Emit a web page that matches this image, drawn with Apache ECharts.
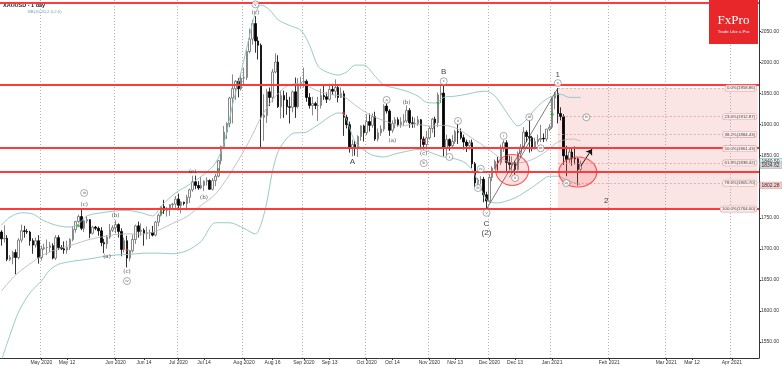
<!DOCTYPE html>
<html><head><meta charset="utf-8">
<script src="https://cdn.jsdelivr.net/npm/echarts@6/dist/echarts.min.js"></script>
<style>html,body{margin:0;padding:0;background:#fff}#c{width:782px;height:366px}</style>
</head><body><div id="c"></div>
<script>
// ---------- DATA ----------
const symbolTitle = 'XAUUSD - 1 day';
const indicatorTitle = 'BB(20,20,2.0,2.0)';
const holidays = ['2020-12-25', '2021-01-01'];
const totalBars = 266;

const open = [1727,1716,1717,1683,1686,1694,1686,1714,1729,1728,
1727,1713,1706,1713,1686,1700,1702,1702,1705,1685,
1718,1702,1700,1698,1702,1715,1731,1744,1752,1733,
1745,1747,1725,1735,1733,1729,1710,1708,1719,1730,
1734,1739,1728,1699,1713,1685,1697,1715,1737,1728,
1730,1725,1726,1726,1722,1743,1754,1768,1762,1763,
1771,1772,1780,1770,1775,1773,1783,1795,1808,1802,
1798,1802,1809,1810,1796,1810,1817,1842,1865,1888,
1902,1943,1958,1970,1958,1975,1976,2018,2038,2063,
2035,2028,1912,1915,1953,1944,1985,2001,1929,1947,
1940,1929,1928,1953,1929,1964,1968,1970,1944,1931,
1934,1931,1931,1947,1945,1941,1957,1954,1960,1944,
1950,1912,1900,1863,1868,1862,1881,1898,1887,1905,
1899,1913,1877,1887,1893,1930,1922,1891,1902,1908,
1900,1904,1906,1923,1903,1902,1902,1908,1877,1868,
1879,1894,1909,1903,1948,1951,1862,1876,1866,1873,
1889,1888,1879,1872,1866,1871,1837,1806,1811,1812,
1787,1777,1815,1830,1841,1839,1862,1871,1839,1836,
1839,1828,1854,1864,1888,1881,1879,1863,1873,1876,
1878,1877,1893,1896,1943,1950,1918,1913,1850,1844,
1856,1846,1845,1828];
const high = [1730,1738,1722,1690,1697,1699,1717,1739,1737,1732,
1729,1717,1718,1722,1705,1708,1715,1711,1709,1722,
1722,1706,1712,1713,1717,1736,1745,1755,1765,1747,
1753,1748,1737,1737,1736,1735,1716,1722,1740,1738,
1746,1741,1733,1718,1721,1698,1723,1739,1744,1741,
1733,1736,1731,1737,1745,1757,1768,1779,1767,1772,
1774,1785,1789,1777,1776,1787,1797,1818,1818,1809,
1816,1810,1815,1812,1814,1821,1843,1866,1898,1904,
1945,1981,1972,1975,1983,1992,2021,2055,2069,2075,
2042,2031,1949,1958,1960,1990,2015,2012,1955,1955,
1952,1945,1955,1976,1975,1977,1992,1973,1951,1945,
1937,1945,1958,1965,1952,1966,1966,1973,1963,1960,
1955,1916,1905,1876,1874,1883,1899,1900,1917,1918,
1918,1921,1894,1899,1933,1934,1925,1907,1912,1912,
1912,1917,1931,1927,1913,1911,1914,1909,1881,1890,
1897,1911,1913,1952,1965,1966,1884,1878,1883,1892,
1902,1894,1884,1876,1875,1876,1840,1814,1817,1816,
1792,1820,1833,1844,1848,1868,1875,1875,1850,1849,
1842,1857,1869,1896,1891,1907,1882,1879,1884,1900,
1886,1893,1901,1944,1953,1959,1928,1917,1866,1862,
1863,1865,1847,1842];
const low = [1705,1710,1680,1680,1675,1659,1683,1710,1718,1724,
1705,1692,1702,1676,1681,1698,1690,1695,1683,1682,
1698,1698,1692,1692,1698,1712,1726,1742,1730,1727,
1741,1717,1723,1730,1721,1704,1693,1700,1716,1727,
1725,1718,1688,1694,1670,1680,1694,1708,1718,1721,
1705,1715,1716,1720,1720,1736,1752,1756,1752,1753,
1763,1766,1762,1757,1770,1762,1774,1792,1796,1795,
1796,1793,1802,1795,1794,1801,1815,1836,1862,1877,
1896,1902,1940,1944,1955,1965,1972,2015,2029,2016,
2005,1863,1874,1903,1930,1936,1983,1927,1910,1911,
1916,1902,1920,1911,1926,1958,1960,1937,1926,1915,
1925,1906,1926,1940,1935,1939,1948,1943,1936,1943,
1882,1894,1855,1849,1850,1848,1874,1873,1883,1889,
1895,1874,1873,1882,1889,1918,1882,1887,1894,1897,
1895,1898,1903,1895,1895,1895,1898,1860,1860,1860,
1876,1887,1880,1896,1935,1849,1850,1858,1861,1869,
1869,1876,1860,1856,1860,1830,1800,1800,1804,1775,
1764,1775,1809,1828,1826,1835,1856,1823,1828,1823,
1819,1826,1848,1860,1872,1855,1857,1860,1868,1872,
1872,1873,1890,1893,1925,1902,1907,1835,1817,1838,
1834,1836,1802,1823];
const close = [1716,1717,1683,1686,1694,1686,1714,1729,1728,1727,
1713,1706,1713,1686,1700,1702,1702,1705,1685,1718,
1702,1700,1698,1702,1715,1731,1744,1752,1733,1745,
1747,1725,1735,1733,1729,1710,1708,1719,1730,1734,
1739,1728,1699,1713,1685,1697,1715,1737,1728,1730,
1725,1726,1726,1722,1743,1754,1768,1762,1763,1771,
1772,1780,1770,1775,1773,1783,1795,1808,1802,1798,
1802,1809,1810,1796,1810,1817,1842,1865,1888,1902,
1943,1958,1970,1958,1975,1976,2018,2038,2063,2035,
2028,1912,1915,1953,1944,1985,2001,1929,1947,1940,
1929,1928,1953,1929,1964,1968,1970,1944,1931,1934,
1931,1931,1947,1945,1941,1957,1954,1960,1944,1950,
1912,1900,1863,1868,1862,1881,1898,1887,1905,1899,
1913,1877,1887,1893,1930,1922,1891,1902,1908,1900,
1904,1906,1923,1903,1902,1902,1908,1877,1868,1879,
1894,1909,1903,1948,1951,1862,1876,1866,1873,1889,
1888,1879,1872,1866,1871,1837,1806,1811,1812,1787,
1777,1815,1830,1841,1839,1862,1871,1839,1836,1839,
1828,1854,1864,1888,1881,1879,1863,1873,1876,1878,
1877,1893,1896,1943,1950,1918,1913,1850,1844,1856,
1846,1845,1828,1837];

const bbUpper = [['2020-04-15',1738],['2020-04-19',1751],['2020-04-23',1758],['2020-04-28',1756],['2020-05-03',1745],['2020-05-08',1737],['2020-05-13',1735],['2020-05-17',1740],['2020-05-20',1753],['2020-05-26',1758],['2020-06-01',1761],['2020-06-05',1762],['2020-06-12',1758],['2020-06-18',1753],['2020-06-23',1769],['2020-06-30',1790],['2020-07-07',1804],['2020-07-14',1820],['2020-07-20',1838],['2020-07-23',1870],['2020-07-28',1932],['2020-07-31',1985],['2020-08-05',2044],['2020-08-07',2080],['2020-08-11',2093],['2020-08-14',2085],['2020-08-19',2069],['2020-08-25',2060],['2020-08-31',2052],['2020-09-03',2028],['2020-09-08',1994],['2020-09-11',1985],['2020-09-17',1980],['2020-09-22',1985],['2020-09-25',1996],['2020-09-30',1996],['2020-10-06',1978],['2020-10-09',1964],['2020-10-15',1959],['2020-10-21',1954],['2020-10-27',1946],['2020-10-30',1936],['2020-11-04',1935],['2020-11-09',1944],['2020-11-13',1946],['2020-11-19',1949],['2020-11-25',1953],['2020-11-30',1954],['2020-12-03',1946],['2020-12-08',1927],['2020-12-11',1907],['2020-12-15',1898],['2020-12-18',1908],['2020-12-23',1925],['2020-12-29',1938],['2021-01-04',1946],['2021-01-07',1949],['2021-01-12',1944],['2021-01-18',1944]];
const bbMiddle = [['2020-04-15',1632],['2020-04-21',1658],['2020-04-28',1679],['2020-05-03',1691],['2020-05-08',1700],['2020-05-15',1708],['2020-05-20',1714],['2020-05-26',1719],['2020-06-01',1723],['2020-06-05',1724],['2020-06-15',1724],['2020-06-22',1730],['2020-06-29',1741],['2020-07-06',1752],['2020-07-13',1770],['2020-07-20',1788],['2020-07-27',1820],['2020-08-03',1858],['2020-08-06',1884],['2020-08-11',1912],['2020-08-17',1940],['2020-08-24',1962],['2020-08-31',1967],['2020-09-07',1956],['2020-09-14',1949],['2020-09-21',1945],['2020-09-28',1928],['2020-10-05',1914],['2020-10-12',1905],['2020-10-19',1898],['2020-10-26',1901],['2020-11-02',1898],['2020-11-09',1899],['2020-11-16',1893],['2020-11-23',1878],['2020-11-30',1863],['2020-12-07',1846],['2020-12-14',1838],['2020-12-21',1842],['2020-12-29',1854],['2021-01-06',1872],['2021-01-13',1877],['2021-01-18',1874]];
const bbLower = [['2020-04-15',1520],['2020-04-19',1561],['2020-04-22',1598],['2020-04-27',1629],['2020-05-01',1648],['2020-05-05',1666],['2020-05-08',1675],['2020-05-14',1680],['2020-05-20',1683],['2020-05-26',1687],['2020-06-01',1690],['2020-06-08',1691],['2020-06-15',1693],['2020-06-22',1693],['2020-06-29',1692],['2020-07-06',1697],['2020-07-13',1712],['2020-07-20',1742],['2020-07-27',1742],['2020-08-03',1733],['2020-08-07',1724],['2020-08-11',1740],['2020-08-13',1775],['2020-08-17',1825],['2020-08-19',1857],['2020-08-24',1878],['2020-08-27',1887],['2020-09-01',1887],['2020-09-04',1894],['2020-09-09',1903],['2020-09-14',1913],['2020-09-17',1919],['2020-09-21',1917],['2020-09-23',1895],['2020-09-25',1872],['2020-09-30',1859],['2020-10-05',1851],['2020-10-09',1848],['2020-10-15',1853],['2020-10-21',1857],['2020-10-27',1860],['2020-11-02',1856],['2020-11-06',1849],['2020-11-12',1846],['2020-11-18',1840],['2020-11-23',1827],['2020-11-25',1808],['2020-11-27',1788],['2020-12-01',1775],['2020-12-04',1774],['2020-12-09',1777],['2020-12-14',1782],['2020-12-17',1790],['2020-12-22',1799],['2020-12-28',1809],['2020-12-31',1817],['2021-01-06',1817],['2021-01-11',1811],['2021-01-14',1806],['2021-01-18',1803]];

const tickDates = ['2020-05-01','2020-05-12','2020-06-01','2020-06-15','2020-07-01','2020-07-14','2020-08-03','2020-08-17','2020-09-01','2020-09-14','2020-10-01','2020-10-14','2020-11-02','2020-11-13','2020-12-01','2020-12-14','2021-01-04','2021-02-01','2021-03-01','2021-03-12','2021-04-01'];
const tickLabels = ['May 2020','May 12','Jun 2020','Jun 14','Jul 2020','Jul 14','Aug 2020','Aug 16','Sep 2020','Sep 13','Oct 2020','Oct 14','Nov 2020','Nov 13','Dec 2020','Dec 13','Jan 2021','Feb 2021','Mar 2021','Mar 12','Apr 2021'];
const yTicks = [1550,1600,1650,1700,1750,1800,1850,1900,1950,2000,2050];

const redLevels = [2097, 1964, 1862.8, 1823.6, 1764];
const fibStart = '2021-01-06';
const fibNames = ['0.0%','23.6%','38.2%','50.0%','61.8%','78.6%','100.0%'];
const fibValues = [1958.86,1912.87,1884.43,1861.43,1838.42,1805.70,1764.00];
const priceTags = [1840.50, 1834.62, 1802.28];

const circledLabels = [['2020-05-19',1790,'iii'],['2020-06-05',1648,'iv'],['2020-08-07',2094,'v'],['2020-10-12',1940,'a'],['2020-10-29',1838,'b'],['2020-11-09',1970,'c'],['2020-11-11',1848,'i'],['2020-11-16',1906,'ii'],['2020-11-25',1798,'iii'],['2020-11-26',1829,'iv'],['2020-11-30',1758,'v'],['2020-12-08',1882,'i'],['2020-12-14',1814,'ii'],['2020-12-21',1912,'iii'],['2020-12-28',1862,'iv'],['2021-01-06',1967,'v'],['2021-01-11',1806,'a'],['2021-01-20',1912,'b']];
const plainLabels = [['2020-05-19',1772,'(c)'],['2020-05-28',1687,'(a)'],['2020-06-01',1753,'(b)'],['2020-06-05',1664,'(c)'],['2020-07-08',1824,'(c)'],['2020-07-14',1783,'(b)'],['2020-08-07',2080,'(c)'],['2020-10-14',1875,'(a)'],['2020-10-21',1936,'(b)'],['2020-10-29',1853,'(c)']];
const bigLabels = [['2020-09-24',1841,'A'],['2020-11-09',1986,'B'],['2020-11-30',1741,'C'],['2020-11-30',1725,'(2)'],['2021-01-06',1980,'1'],['2021-01-29',1778,'2']];
const greenDots = [['2020-05-17',1737],['2020-06-23',1759],['2020-07-21',1828],['2020-11-05',1935],['2021-01-04',1917]];
const redDots = [['2020-06-05',1698],['2020-09-21',1919],['2020-10-29',1874]];
const zoneCircles = [['2020-12-11',1827],['2021-01-15',1823.6]];
const trendLines = [[['2020-11-30',1764],['2021-01-06',1958.86]],[['2020-12-10',1815],['2020-12-22',1880]]];
const arrowLine = [['2021-01-18',1833],['2021-01-22',1861]];

// ---------- BUILD ----------
function buildDates(){
  const out=[]; let t=Date.UTC(2020,3,15); const sunEnd=Date.UTC(2020,5,1);
  while(out.length<totalBars){
    const d=new Date(t), dow=d.getUTCDay(), s=d.toISOString().slice(0,10);
    if(((dow>=1&&dow<=5)||(dow===0&&t<sunEnd)) && holidays.indexOf(s)<0) out.push(s);
    t+=86400000;
  }
  return out;
}
const dates = buildDates();
const lastDate = dates[dates.length-1];
const tickMap = {}; tickDates.forEach((d,i)=>tickMap[d]=tickLabels[i]);
const monthStarts = tickDates.filter((d,i)=>/\d{4}$/.test(tickLabels[i]));
const candles = open.map((o,i)=>[o, close[i], low[i], high[i]]);
const FONT = 'Liberation Sans';

const chart = echarts.init(document.getElementById('c'), null, {renderer:'canvas'});
const option = {
  animation:false,
  backgroundColor:'#ffffff',
  grid:{left:0,right:23,top:0,bottom:8,containLabel:false,outerBoundsMode:'none'},
  xAxis:{type:'category',data:dates,boundaryGap:true,
    axisLine:{show:true,lineStyle:{color:'#333',width:1}},
    axisTick:{show:true,alignWithLabel:true,length:2,interval:(i,v)=>v in tickMap,lineStyle:{color:'#333'}},
    axisLabel:{show:true,interval:(i,v)=>v in tickMap,formatter:v=>tickMap[v]||'',fontSize:5,color:'#333',margin:2,fontFamily:FONT},
    splitLine:{show:true,interval:(i,v)=>monthStarts.indexOf(v)>=0,lineStyle:{color:'#a0a0a0',width:0.8,type:[1,2]}}
  },
  yAxis:{type:'value',position:'right',min:1524,max:2101,scale:true,
    axisLine:{show:true,lineStyle:{color:'#333',width:1}},
    axisTick:{show:true,length:2,customValues:yTicks,lineStyle:{color:'#333'}},
    axisLabel:{show:true,customValues:yTicks,formatter:v=>Number(v).toFixed(2),fontSize:5,color:'#333',margin:2,fontFamily:FONT},
    splitLine:{show:false}
  },
  series:[
    {type:'line',name:'fib',data:[],z:1,silent:true,
      markArea:{silent:true,itemStyle:{color:'rgba(222,90,90,0.16)'},data:[[{coord:[fibStart,fibValues[0]]},{coord:[lastDate,fibValues[fibValues.length-1]]}]]},
      markLine:{silent:true,symbol:['none','none'],
        lineStyle:{color:'#e39494',width:0.7,type:[2,2]},
        label:{show:true,position:'insideEnd',distance:1,fontSize:4.3,fontFamily:FONT,color:'#444',backgroundColor:'#fbecec',borderColor:'#e3a3a3',borderWidth:0.6,borderRadius:2,padding:[1,1.5,0.5,1.5]},
        data:fibValues.map((v,i)=>[{coord:[fibStart,v],name:fibNames[i]+'('+v.toFixed(2)+')',label:{formatter:fibNames[i]+'('+v.toFixed(2)+')'}},{coord:[lastDate,v]}])}
    },
    {type:'candlestick',name:'XAUUSD',data:candles,z:3,barWidth:2,
      itemStyle:{color:'#ffffff',color0:'#000000',borderColor:'#6a6a6a',borderColor0:'#000000',borderWidth:0.8}},
    {type:'line',name:'BB upper',data:bbUpper,smooth:0.3,symbol:'none',z:4,lineStyle:{color:'#8cc3c3',width:0.9}},
    {type:'line',name:'BB middle',data:bbMiddle,smooth:0.3,symbol:'none',z:4,lineStyle:{color:'#b4b4b4',width:0.8}},
    {type:'line',name:'BB lower',data:bbLower,smooth:0.3,symbol:'none',z:4,lineStyle:{color:'#8cc3c3',width:0.9}},
    {type:'line',name:'levels',data:[],z:5,silent:true,
      markLine:{silent:true,symbol:['none','none'],label:{show:false},lineStyle:{color:'#ff3a3a',width:2,type:'solid'},
        data:redLevels.map(v=>({yAxis:v}))}},
    {type:'line',name:'trend',data:[],z:6,silent:true,
      markLine:{silent:true,symbol:['none','none'],label:{show:false},lineStyle:{color:'#444',width:0.7,type:'solid'},
        data:trendLines.map(([a,b])=>[{coord:a},{coord:b}]).concat([[{coord:arrowLine[0],symbol:'none'},{coord:arrowLine[1],symbol:'arrow',symbolSize:6,lineStyle:{color:'#111',width:1}}]])}},
    {type:'scatter',name:'zones',z:6,silent:true,
      data:zoneCircles.map((p,i)=>({value:p,symbolSize:i===0?[33,31]:[38,30]})),
      itemStyle:{color:'rgba(255,70,70,0.20)',borderColor:'#ff3030',borderWidth:1.1}},
    {type:'scatter',name:'green',z:7,silent:true,data:greenDots,symbolSize:3,itemStyle:{color:'#22aa22'}},
    {type:'scatter',name:'red',z:7,silent:true,data:redDots,symbolSize:3,itemStyle:{color:'#cc2222'}},
    {type:'scatter',name:'circled',z:8,silent:true,data:circledLabels.map(a=>({value:[a[0],a[1]],label:{formatter:a[2]}})),
      symbol:'circle',symbolSize:7,itemStyle:{color:'#ffffff',borderColor:'#555',borderWidth:0.6},
      label:{show:true,position:'inside',fontSize:4.3,color:'#333',fontFamily:FONT}},
    {type:'scatter',name:'plain',z:8,silent:true,data:plainLabels.map(a=>({value:[a[0],a[1]],label:{formatter:a[2]}})),
      symbolSize:1,itemStyle:{color:'rgba(0,0,0,0)'},
      label:{show:true,position:'inside',fontSize:5.5,color:'#222',fontFamily:'DejaVu Serif'}},
    {type:'scatter',name:'big',z:8,silent:true,data:bigLabels.map(a=>({value:[a[0],a[1]],label:{formatter:a[2]}})),
      symbolSize:1,itemStyle:{color:'rgba(0,0,0,0)'},
      label:{show:true,position:'inside',fontSize:8,color:'#111',fontFamily:FONT}}
  ]
};
chart.setOption(option);

// overlays positioned through the chart's own scales
const tagStyles = [{fill:'#eef7f7',stroke:'#6fb5b5'},{fill:'#d8d8d8',stroke:'#aaaaaa'},{fill:'#f4cdcd',stroke:'#e39a9a'}];
const graphics = [
  {type:'text',left:3,top:2,style:{text:symbolTitle,font:'bold 5.5px "Liberation Sans"',fill:'#222'}},
  {type:'text',left:28,top:10,style:{text:indicatorTitle,font:'4.3px "Liberation Sans"',fill:'#6aa8a8'}},
  {type:'rect',shape:{x:709,y:0,width:49,height:44},style:{fill:'#e8272b'},z:100},
  {type:'text',x:733.5,y:21,z:101,style:{text:'FxPro',font:'13px "Liberation Serif"',fill:'#fff',align:'center',verticalAlign:'middle'}},
  {type:'text',x:733.5,y:31.5,z:101,style:{text:'Trade Like a Pro',font:'4.3px "Liberation Sans"',fill:'#fff',align:'center',verticalAlign:'middle'}}
];
priceTags.forEach((v,i)=>{
  const y = chart.convertToPixel({yAxisIndex:0}, v);
  graphics.push({type:'rect',z:102,shape:{x:760,y:y-3.2,width:22,height:6.4},style:{fill:tagStyles[i].fill,stroke:tagStyles[i].stroke,lineWidth:0.6}});
  graphics.push({type:'text',z:103,x:761.5,y:y,style:{text:v.toFixed(2),font:'5px "Liberation Sans"',fill:'#333',verticalAlign:'middle'}});
});
chart.setOption({graphic:graphics});
</script></body></html>
